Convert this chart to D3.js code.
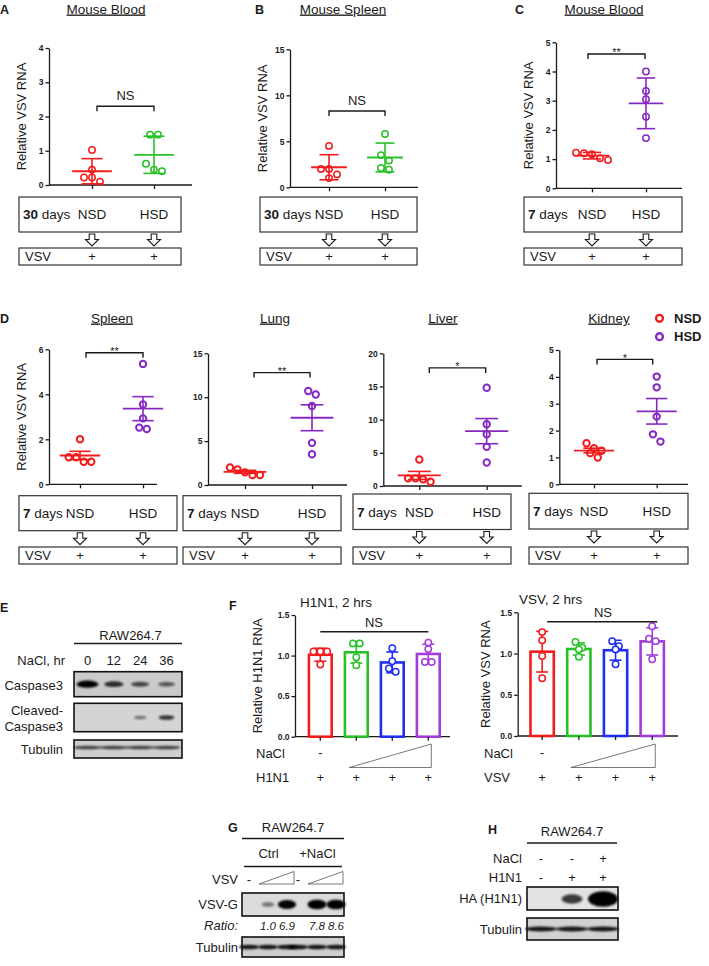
<!DOCTYPE html>
<html><head><meta charset="utf-8">
<script src="https://cdn.jsdelivr.net/npm/d3@7/dist/d3.min.js"></script>
<style>
html,body{margin:0;padding:0;background:#fff;}
svg{display:block;}
text{font-family:"Liberation Sans",Arial,Helvetica,sans-serif;}
</style></head>
<body>
<svg id="fig" width="709" height="966" viewBox="0 0 709 966"></svg>
<script>
// ================= DATA =================
const groups = ["NSD", "HSD"];
const A_NSD = [1.02, 0.45, 0.22, 0.22, 0.10];
const A_HSD = [1.47, 1.47, 0.62, 0.45, 0.40];
const A_ticks = [0, 1, 2, 3, 4];
const B_NSD = [4.5, 2.0, 2.0, 1.4, 1.0];
const B_HSD = [5.8, 3.5, 2.9, 2.1, 1.9];
const B_ticks = [0, 5, 10, 15];
const C_NSD = [1.22, 1.20, 1.17, 1.03, 0.97];
const C_HSD = [4.0, 3.33, 3.05, 2.45, 1.72];
const C_ticks = [0, 1, 2, 3, 4, 5];
const spleen_NSD = [2.0, 1.2, 1.2, 1.0, 1.0];
const spleen_HSD = [5.35, 3.55, 2.93, 2.52, 2.46];
const spleen_ticks = [0, 2, 4, 6];
const lung_NSD = [2.0, 1.78, 1.44, 1.14, 1.14];
const lung_HSD = [10.7, 10.3, 9.0, 4.8, 3.5];
const lung_ticks = [0, 5, 10, 15];
const liver_NSD = [4.0, 1.15, 1.15, 1.0, 0.65];
const liver_HSD = [14.8, 9.3, 7.8, 5.9, 3.55];
const liver_ticks = [0, 5, 10, 15, 20];
const kidney_NSD = [1.53, 1.34, 1.25, 1.16, 1.0];
const kidney_HSD = [4.01, 3.61, 2.52, 1.86, 1.59];
const kidney_ticks = [0, 1, 2, 3, 4, 5];

const F_conditions = ["ctrl", "low", "mid", "high"];
const F_H1N1 = [
  [1.05, 1.05, 1.05, 0.89],
  [1.15, 1.15, 0.98, 0.88],
  [1.09, 0.93, 0.84, 0.80],
  [1.16, 1.08, 0.92, 0.92]
];
const F_VSV = [
  [1.26, 1.16, 0.97, 0.70],
  [1.14, 1.07, 1.05, 0.96],
  [1.15, 1.09, 1.05, 0.87],
  [1.33, 1.18, 1.15, 0.93]
];
const F_ticks = [0, 0.5, 1.0, 1.5];

const E_lanes = ["0", "12", "24", "36"];
const E_caspase3 = [1.0, 0.68, 0.52, 0.42];
const E_cleaved = [0, 0, 0.32, 0.7];
const E_tubulin = [0.7, 0.7, 0.7, 0.7];

const G_ctrlLanes = ["c0", "c1", "c2"];
const G_naclLanes = ["n0", "n1", "n2"];
const G_lanes = G_ctrlLanes.concat(G_naclLanes);
const G_vsvG = [0, 0.3, 0.92, 0, 1.0, 1.0];
const G_ratio = ["", "1.0", "6.9", "", "7.8", "8.6"];
const G_tubulin = [0.9, 0.9, 0.9, 0.9, 0.9, 0.9];

const H_lanes = ["h0", "h1", "h2"];
const H_NaCl = ["-", "-", "+"];
const H_H1N1 = ["-", "+", "+"];
const H_HA = [0, 0.55, 1.0];
const H_tubulin = [0.9, 0.9, 0.9];

// ================= DRAWING =================
const RED = "#f21c1c", GREEN = "#27c127", PURPLE = "#8629c2", BLUE = "#1f2ff0", FPURPLE = "#a23ddc";
const INK = "#1a1a1a";
const svg = d3.select("#fig");
const defs = svg.append("defs");
defs.append("filter").attr("id", "blur").attr("x", "-60%").attr("y", "-150%")
  .attr("width", "220%").attr("height", "400%")
  .append("feGaussianBlur").attr("stdDeviation", 1.1);

function addText(g, x, y, s, o = {}) {
  const t = g.append("text").attr("x", x).attr("y", y)
    .attr("font-size", o.size || 13).attr("fill", o.fill || INK)
    .attr("text-anchor", o.anchor || "start");
  if (o.bold) t.attr("font-weight", "bold");
  if (o.italic) t.attr("font-style", "italic");
  if (s !== null && s !== undefined) t.text(s);
  return t;
}
function hline(g, x1, x2, y, w = 1.3) {
  g.append("line").attr("x1", x1).attr("x2", x2).attr("y1", y).attr("y2", y)
    .attr("stroke", INK).attr("stroke-width", w);
}
function styleAxis(sel) {
  sel.selectAll("path,line").attr("stroke", INK).attr("stroke-width", 1.3);
  sel.selectAll("text").attr("font-size", 8.5).attr("font-weight", "bold").attr("fill", INK);
}
// row-binned scatter offsets (GraphPad-like)
function swarm(values, y, spacing, thresh) {
  const idx = values.map((v, i) => i).sort((a, b) => values[b] - values[a]);
  const off = new Array(values.length).fill(0);
  let row = [], start = null;
  const flush = () => { row.forEach((k, j) => { off[k] = (j - (row.length - 1) / 2) * spacing; }); row = []; };
  idx.forEach(k => {
    const py = y(values[k]);
    if (start === null || Math.abs(py - start) > thresh) { flush(); start = py; }
    row.push(k);
  });
  flush();
  return off;
}
function downArrow(g, cx, top) {
  const h = 12, sw = 2.8, hw = 6.5, sh = 5.5;
  g.append("path")
    .attr("d", `M${cx - sw},${top}H${cx + sw}V${top + sh}H${cx + hw}L${cx},${top + h}L${cx - hw},${top + sh}H${cx - sw}Z`)
    .attr("fill", "#fff").attr("stroke", INK).attr("stroke-width", 1.1);
}

function scatterPanel(p) {
  const g = svg.append("g");
  const y = d3.scaleLinear().domain([0, p.max]).range([p.y0, p.yTop]);
  const x = d3.scalePoint().domain(groups).range(p.cats);
  if (p.label) addText(g, p.lx, p.ly, p.label, { size: 12.5, bold: true });
  addText(g, p.tx, p.ty, p.title, { size: 13.5, anchor: "middle" }).attr("text-decoration", "underline");
  if (p.ylabel) {
    g.append("text").attr("transform", `translate(${p.axisX - 23},${(p.y0 + p.yTop) / 2}) rotate(-90)`)
      .attr("text-anchor", "middle").attr("font-size", 13).attr("fill", INK).text("Relative VSV RNA");
  }
  const ya = g.append("g").attr("transform", `translate(${p.axisX},0)`)
    .call(d3.axisLeft(y).tickValues(p.ticks).tickSize(3.5).tickSizeOuter(0).tickPadding(2).tickFormat(d3.format("d")));
  styleAxis(ya);
  hline(g, p.axisX, p.axisEnd, p.y0);
  const xa = g.append("g").attr("transform", `translate(0,${p.y0})`)
    .call(d3.axisBottom(x).tickSize(4).tickFormat(""));
  xa.select(".domain").remove();
  styleAxis(xa);

  const step = p.cats[1] - p.cats[0];
  p.data.forEach((vals, i) => {
    const cx = x(groups[i]), col = p.colors[i];
    const m = d3.mean(vals);
    const e = p.err === "sd" ? d3.deviation(vals) : d3.deviation(vals) / Math.sqrt(vals.length);
    const off = swarm(vals, y, p.spacing, 7.6);
    g.append("g").selectAll("circle").data(vals).enter().append("circle")
      .attr("cx", (d, k) => cx + off[k]).attr("cy", d => y(d)).attr("r", 3.2)
      .attr("fill", "none").attr("stroke", col).attr("stroke-width", p.pw);
    const mh = step * 0.32, ch = step * 0.17;
    g.append("line").attr("x1", cx).attr("x2", cx).attr("y1", y(m - e)).attr("y2", y(m + e))
      .attr("stroke", col).attr("stroke-width", 1.6);
    [m - e, m + e].forEach(v => g.append("line").attr("x1", cx - ch).attr("x2", cx + ch)
      .attr("y1", y(v)).attr("y2", y(v)).attr("stroke", col).attr("stroke-width", 1.6));
    g.append("line").attr("x1", cx - mh).attr("x2", cx + mh).attr("y1", y(m)).attr("y2", y(m))
      .attr("stroke", col).attr("stroke-width", 1.8);
  });
  const bx1 = x(groups[0]) + p.brL, bx2 = x(groups[1]) + p.brR, by = y(p.sigVal);
  g.append("path").attr("d", `M${bx1},${by + 5}V${by}H${bx2}V${by + 5}`)
    .attr("fill", "none").attr("stroke", INK).attr("stroke-width", 1.4);
  if (p.sig === "NS") addText(g, (bx1 + bx2) / 2, by - 6, "NS", { size: 13, anchor: "middle" });
  else addText(g, (bx1 + bx2) / 2, by + 2.5, p.sig, { size: 11, anchor: "middle" });

  const [bx, bxe] = p.box, [by1, by2] = p.boxY;
  g.append("rect").attr("x", bx).attr("y", by1).attr("width", bxe - bx).attr("height", by2 - by1)
    .attr("fill", "none").attr("stroke", "#333").attr("stroke-width", 1.2);
  const mid = (by1 + by2) / 2 + 4.8;
  const t = addText(g, bx + 4, mid, null, { size: 13.5 });
  t.append("tspan").attr("font-weight", "bold").text(p.days);
  t.append("tspan").text(" days");
  groups.forEach(k => addText(g, x(k), mid, k, { size: 13.5, anchor: "middle" }));
  groups.forEach(k => downArrow(g, x(k), by2 + 2));
  const [v1, v2] = p.vsvY;
  g.append("rect").attr("x", bx).attr("y", v1).attr("width", bxe - bx).attr("height", v2 - v1)
    .attr("fill", "none").attr("stroke", "#333").attr("stroke-width", 1.2);
  addText(g, bx + 6, (v1 + v2) / 2 + 4.5, "VSV", { size: 13 });
  groups.forEach(k => addText(g, x(k), (v1 + v2) / 2 + 4.5, "+", { size: 13, anchor: "middle" }));
}

const topRow = { err: "sd", spacing: 8, pw: 1.5, boxY: [197, 232], vsvY: [248, 265], ylabel: true };
scatterPanel(Object.assign({}, topRow, {
  label: "A", lx: 0, ly: 14, title: "Mouse Blood", tx: 106, ty: 13.5,
  axisX: 49, axisEnd: 192, y0: 185, yTop: 48, cats: [92, 154], max: 4, ticks: A_ticks,
  data: [A_NSD, A_HSD], colors: [RED, GREEN], sig: "NS", sigVal: 2.3, brL: 5, brR: 0,
  box: [19, 181], days: "30"
}));
scatterPanel(Object.assign({}, topRow, {
  label: "B", lx: 255, ly: 14, title: "Mouse Spleen", tx: 343, ty: 13.5,
  axisX: 290, axisEnd: 418, y0: 187.3, yTop: 49.3, cats: [329, 385], max: 15, ticks: B_ticks,
  data: [B_NSD, B_HSD], colors: [RED, GREEN], sig: "NS", sigVal: 8.3, brL: 0, brR: 0,
  box: [260, 417], days: "30"
}));
scatterPanel(Object.assign({}, topRow, {
  label: "C", lx: 515, ly: 14, title: "Mouse Blood", tx: 604, ty: 13.5,
  axisX: 556, axisEnd: 682, y0: 188.3, yTop: 42.3, cats: [592, 646], max: 5, ticks: C_ticks,
  data: [C_NSD, C_HSD], colors: [RED, PURPLE], sig: "**", sigVal: 4.6, brL: -4, brR: -1,
  box: [524, 682], days: "7"
}));

const dRow = { err: "sem", spacing: 7.5, pw: 2, vsvY: [547, 564], days: "7", colors: [RED, PURPLE], ty: 322.5 };
scatterPanel(Object.assign({}, dRow, {
  label: "D", lx: 0, ly: 323, title: "Spleen", tx: 112, ylabel: true,
  axisX: 49, axisEnd: 157, y0: 484.3, yTop: 349.3, cats: [80, 143], max: 6, ticks: spleen_ticks,
  data: [spleen_NSD, spleen_HSD], sig: "**", sigVal: 5.85, brL: 6, brR: 0,
  box: [19, 177], boxY: [495.7, 530.7]
}));
scatterPanel(Object.assign({}, dRow, {
  title: "Lung", tx: 275,
  axisX: 208, axisEnd: 347, y0: 485, yTop: 353.3, cats: [245, 312], max: 15, ticks: lung_ticks,
  data: [lung_NSD, lung_HSD], sig: "**", sigVal: 12.8, brL: 9, brR: -2,
  box: [183, 341], boxY: [495.7, 530.7]
}));
scatterPanel(Object.assign({}, dRow, {
  title: "Liver", tx: 443,
  axisX: 383.3, axisEnd: 521.7, y0: 486, yTop: 353.3, cats: [419.3, 486.7], max: 20, ticks: liver_ticks,
  data: [liver_NSD, liver_HSD], sig: "*", sigVal: 17.8, brL: 10, brR: -1,
  box: [353, 511], boxY: [494, 529.5]
}));
scatterPanel(Object.assign({}, dRow, {
  title: "Kidney", tx: 609,
  axisX: 559.3, axisEnd: 688, y0: 484.3, yTop: 350, cats: [594, 656.7], max: 5, ticks: kidney_ticks,
  data: [kidney_NSD, kidney_HSD], sig: "*", sigVal: 4.65, brL: 3, brR: -4,
  box: [529, 688], boxY: [493.3, 529]
}));
const leg = svg.append("g");
groups.forEach((k, i) => {
  const yy = 318.3 + i * 18.4;
  leg.append("circle").attr("cx", 659.5).attr("cy", yy).attr("r", 3.4).attr("fill", "none")
    .attr("stroke", i ? PURPLE : RED).attr("stroke-width", 2.4);
  addText(leg, 674, yy + 4.6, k, { size: 13, bold: true });
});

// ---------- F bar charts ----------
function barPanel(p) {
  const g = svg.append("g");
  const y = d3.scaleLinear().domain([0, 1.5]).range([p.y0, p.yTop]);
  const x = d3.scaleBand().domain(F_conditions).range(p.band).paddingInner(0.3).paddingOuter(0.15);
  const cx = c => x(c) + x.bandwidth() / 2;
  if (p.label) addText(g, p.lx, p.ly, p.label, { size: 12.5, bold: true });
  addText(g, p.tx, p.ty, p.title, { size: 13.5 });
  g.append("text").attr("transform", `translate(${p.ylx},${(p.y0 + p.yTop) / 2}) rotate(-90)`)
    .attr("text-anchor", "middle").attr("font-size", 13).attr("fill", INK).text(p.ylabel);
  const ya = g.append("g").attr("transform", `translate(${p.axisX},0)`)
    .call(d3.axisLeft(y).tickValues(F_ticks).tickSize(3.5).tickSizeOuter(0).tickPadding(2).tickFormat(d3.format(".1f")));
  styleAxis(ya);
  hline(g, p.axisX, p.axisEnd, p.y0);
  F_conditions.forEach((c, i) => {
    const vals = p.data[i], col = p.colors[i];
    const m = d3.mean(vals), e = d3.deviation(vals);
    g.append("rect").attr("x", x(c) + 1.2).attr("y", y(m)).attr("width", x.bandwidth() - 2.4)
      .attr("height", p.y0 - y(m)).attr("fill", "#fff").attr("stroke", col).attr("stroke-width", 2.6);
    g.append("line").attr("x1", cx(c)).attr("x2", cx(c)).attr("y1", y(m - e)).attr("y2", y(m + e))
      .attr("stroke", col).attr("stroke-width", 1.6);
    [m - e, m + e].forEach(v => g.append("line").attr("x1", cx(c) - 6).attr("x2", cx(c) + 6)
      .attr("y1", y(v)).attr("y2", y(v)).attr("stroke", col).attr("stroke-width", 1.6));
    const off = swarm(vals, y, 6.8, 6);
    g.append("g").selectAll("circle").data(vals).enter().append("circle")
      .attr("cx", (d, k) => cx(c) + off[k]).attr("cy", d => y(d)).attr("r", 3.2)
      .attr("fill", "#fff").attr("stroke", col).attr("stroke-width", 1.5);
    g.append("line").attr("x1", cx(c)).attr("x2", cx(c)).attr("y1", p.y0).attr("y2", p.y0 + 4)
      .attr("stroke", INK).attr("stroke-width", 1.3);
  });
  const ny = y(p.nsVal);
  hline(g, cx(F_conditions[0]) + p.nsOff, cx(F_conditions[3]) + p.nsOff, ny, 1.5);
  addText(g, p.nsX, ny - 5, "NS", { size: 13, anchor: "middle" });
  addText(g, p.rowX, 758, "NaCl", { size: 13 });
  addText(g, cx(F_conditions[0]), 757, "-", { size: 13, anchor: "middle" });
  const w1 = cx(F_conditions[1]) + p.wedgeL, w2 = cx(F_conditions[3]) + 3;
  g.append("path").attr("d", `M${w1},767.5L${w2},744V767.5Z`).attr("fill", "none")
    .attr("stroke", "#555").attr("stroke-width", 0.8);
  addText(g, p.rowX, 781.5, p.virus, { size: 13 });
  F_conditions.forEach(c => addText(g, cx(c), 781.5, "+", { size: 13, anchor: "middle" }));
}
barPanel({
  label: "F", lx: 229, ly: 610, title: "H1N1, 2 hrs", tx: 300, ty: 606.5,
  ylabel: "Relative H1N1 RNA", ylx: 262, axisX: 295, axisEnd: 450, y0: 736.7, yTop: 615,
  band: [302.3, 446.3], data: F_H1N1, colors: [RED, GREEN, BLUE, FPURPLE],
  nsVal: 1.295, nsOff: 0, nsX: 374, rowX: 256, virus: "H1N1", wedgeL: -7
});
barPanel({
  title: "VSV, 2 hrs", tx: 519, ty: 604,
  ylabel: "Relative VSV RNA", ylx: 490, axisX: 517.7, axisEnd: 678, y0: 736, yTop: 612.3,
  band: [523.8, 670.6], data: F_VSV, colors: [RED, GREEN, BLUE, FPURPLE],
  nsVal: 1.385, nsOff: 5, nsX: 603, rowX: 484, virus: "VSV", wedgeL: -8
});

// ---------- Western blots ----------
function blot(g, x0, x1, y0, y1, bg, xs, keys, vals, o) {
  g.append("rect").attr("x", x0).attr("y", y0).attr("width", x1 - x0).attr("height", y1 - y0).attr("fill", bg);
  const cy = (y0 + y1) / 2 + (o.dy || 0);
  g.append("g").selectAll("ellipse")
    .data(keys.map((k, i) => ({ k, v: vals[i] })).filter(d => d.v > 0))
    .enter().append("ellipse")
    .attr("cx", d => xs(d.k) + (o.dx || 0)).attr("cy", cy)
    .attr("rx", d => o.rx(d.v)).attr("ry", d => o.ry(d.v))
    .attr("fill", "#050505").attr("opacity", d => o.op(d.v)).attr("filter", "url(#blur)");
  g.append("rect").attr("x", x0).attr("y", y0).attr("width", x1 - x0).attr("height", y1 - y0)
    .attr("fill", "none").attr("stroke", "#111").attr("stroke-width", 1.6);
}

// E
const gE = svg.append("g");
addText(gE, 0, 612, "E", { size: 12.5, bold: true });
const xE = d3.scalePoint().domain(E_lanes).range([87.5, 166.5]);
addText(gE, 130.5, 639.5, "RAW264.7", { size: 13, anchor: "middle" });
hline(gE, 74, 182, 643.5, 1.4);
addText(gE, 65, 664.5, "NaCl, hr", { size: 13, anchor: "end" });
E_lanes.forEach(l => addText(gE, xE(l), 664.5, l, { size: 13, anchor: "middle" }));
blot(gE, 74, 182, 671.7, 696.7, "#cacaca", xE, E_lanes, E_caspase3,
  { rx: v => 7 + 4 * v, ry: v => 1.2 + 2.4 * v, op: v => Math.min(1, 0.25 + 0.8 * v) });
blot(gE, 74, 182, 703.3, 731.7, "#d4d4d4", xE, E_lanes, E_cleaved,
  { rx: v => 5 + 4 * v, ry: v => 1.3 + 1.5 * v, op: v => 0.2 + 0.8 * v });
blot(gE, 74, 182, 740, 758, "#cfcfcf", xE, E_lanes, E_tubulin,
  { rx: v => 14, ry: v => 1.7, op: v => v, dy: -1.5 });
addText(gE, 63, 689.5, "Caspase3", { size: 13, anchor: "end" });
addText(gE, 63, 714.5, "Cleaved-", { size: 13, anchor: "end" });
addText(gE, 63, 730.5, "Caspase3", { size: 13, anchor: "end" });
addText(gE, 63, 754, "Tubulin", { size: 13, anchor: "end" });

// G
const gG = svg.append("g");
const xCtrl = d3.scalePoint().domain(G_ctrlLanes).range([249, 287]);
const xNaCl = d3.scalePoint().domain(G_naclLanes).range([298, 336]);
const xG = k => (G_ctrlLanes.includes(k) ? xCtrl(k) : xNaCl(k));
const G_LX = 238, G_B0 = 242, G_B1 = 344;
addText(gG, 228, 832, "G", { size: 12.5, bold: true });
addText(gG, (G_B0 + G_B1) / 2, 831.5, "RAW264.7", { size: 13, anchor: "middle" });
hline(gG, G_B0, G_B1, 838.5, 1.4);
[[G_ctrlLanes, "Ctrl"], [G_naclLanes, "+NaCl"]].forEach(([ls, lab]) => {
  const l = xG(ls[0]) - 5, r = xG(ls[2]) + 6;
  addText(gG, (l + r) / 2, 857.5, lab, { size: 13, anchor: "middle" });
  hline(gG, l, r, 866.5, 1.4);
  addText(gG, xG(ls[0]), 884, "-", { size: 13, anchor: "middle" });
  const w1 = xG(ls[1]) - 9, w2 = xG(ls[2]) + 7;
  gG.append("path").attr("d", `M${w1},884L${w2},871.5V884Z`).attr("fill", "none")
    .attr("stroke", "#555").attr("stroke-width", 0.8);
});
addText(gG, G_LX, 884, "VSV", { size: 13, anchor: "end" });
blot(gG, G_B0, G_B1, 893, 916, "#dcdcdc", xG, G_lanes, G_vsvG,
  { rx: v => 5 + 4.5 * v, ry: v => 1.5 + 3.3 * v, op: v => Math.min(1, 0.2 + 0.85 * v) });
addText(gG, G_LX, 909, "VSV-G", { size: 13, anchor: "end" });
addText(gG, G_LX, 929.5, "Ratio:", { size: 13, anchor: "end", italic: true });
G_lanes.forEach((l, i) => { if (G_ratio[i]) addText(gG, xG(l), 929.5, G_ratio[i], { size: 11.5, anchor: "middle", italic: true }); });
blot(gG, G_B0, G_B1, 937, 957, "#cfcfcf", xG, G_lanes, G_tubulin,
  { rx: v => 10, ry: v => 2.3, op: v => v });
addText(gG, G_LX, 951.5, "Tubulin", { size: 13, anchor: "end" });

// H
const gH = svg.append("g");
const xH = d3.scalePoint().domain(H_lanes).range([541, 603]);
const H_LX = 522, H_B0 = 527, H_B1 = 618;
addText(gH, 488, 834, "H", { size: 12.5, bold: true });
addText(gH, 572, 836, "RAW264.7", { size: 13, anchor: "middle" });
hline(gH, H_B0, H_B1 - 1, 843, 1.4);
addText(gH, H_LX, 863, "NaCl", { size: 13, anchor: "end" });
addText(gH, H_LX, 881.5, "H1N1", { size: 13, anchor: "end" });
H_lanes.forEach((l, i) => {
  addText(gH, xH(l), 863, H_NaCl[i], { size: 13, anchor: "middle" });
  addText(gH, xH(l), 881.5, H_H1N1[i], { size: 13, anchor: "middle" });
});
blot(gH, H_B0, H_B1, 887, 910, "#e2e2e2", xH, H_lanes, H_HA,
  { rx: v => 5 + 10 * v, ry: v => 1 + 6.8 * v, op: v => Math.min(1, 0.3 + 0.8 * v), dy: 0.5 });
addText(gH, H_LX, 903, "HA (H1N1)", { size: 13, anchor: "end" });
blot(gH, H_B0, H_B1, 918, 940, "#d2d2d2", xH, H_lanes, H_tubulin,
  { rx: v => 16, ry: v => 2.4, op: v => v, dy: 0 });
addText(gH, H_LX, 934, "Tubulin", { size: 13, anchor: "end" });
</script>
</body></html>
